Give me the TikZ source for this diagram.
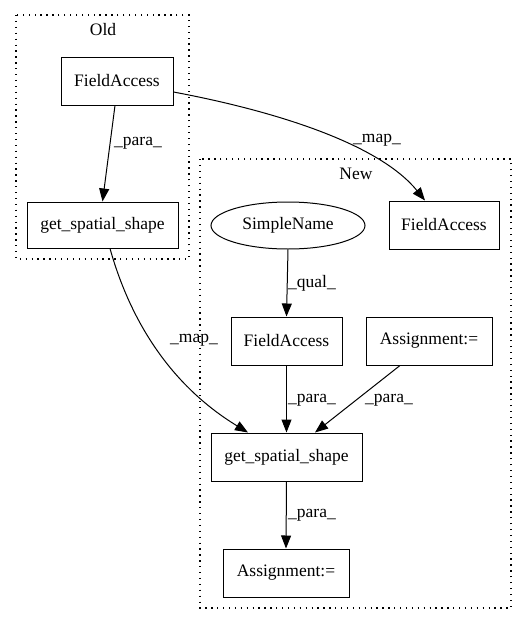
\documentclass[tikz,border=0pt]{standalone}
\usepackage{fontspec}
\setmainfont{Liberation Serif}
\usetikzlibrary{arrows.meta,calc,shapes.geometric}
\begin{document}
\begin{tikzpicture}[x=1pt,y=-1pt,
  every node/.style={font=\fontsize{17.5}{20}\selectfont},
  box/.style={draw,line width=1pt,inner sep=0pt},
  oval/.style={draw,ellipse,line width=1pt,inner sep=0pt},
  lbl/.style={inner sep=0pt},
  cluster/.style={line width=1.1pt,dash pattern=on 1.3pt off 4.6pt},
  edge/.style={line width=1pt,-{Triangle[length=13pt,width=10pt]}}]
\useasboundingbox (0,0) rectangle (527,624);
% clusters
\draw[cluster] (16,15) rectangle (189,259);
\draw[cluster] (200,159) rectangle (511,608);
\node[lbl] (oldlbl) at (103,30) {Old};
\node[lbl] (newlbl) at (356,174) {New};
% nodes
\node[box,minimum width=112pt,minimum height=48pt] (oldfa) at (117,81) {FieldAccess};
\node[box,minimum width=151pt,minimum height=46pt] (oldgss) at (102.5,225) {get\_spatial\_shape};
\node[box,minimum width=110pt,minimum height=48pt] (newfa) at (444,225) {FieldAccess};
\node[oval,minimum width=154pt,minimum height=47pt] (sn) at (288,225.5) {SimpleName};
\node[box,minimum width=111pt,minimum height=48pt] (midfa) at (286.5,341) {FieldAccess};
\node[box,minimum width=126pt,minimum height=48pt] (asgr) at (429,341) {Assignment:=};
\node[box,minimum width=151pt,minimum height=48pt] (newgss) at (286.5,457) {get\_spatial\_shape};
\node[box,minimum width=126pt,minimum height=48pt] (asgb) at (286,573) {Assignment:=};
% edges
\draw[edge] ($(oldfa.south)+(-2,0)$) -- (oldgss.north);
\draw[edge] ($(oldfa.east)+(0,11)$) .. controls (280,112) and (380,145) .. ($(newfa.north)+(-19,0)$);
\draw[edge] ($(oldgss.south)+(7.5,0)$) .. controls (130,320) and (170,385) .. ($(newgss.north)+(-38.5,0)$);
\draw[edge] (sn.south) -- (midfa.north);
\draw[edge] (midfa.south) -- (newgss.north);
\draw[edge] ($(asgr.south)+(-29,0)$) -- ($(newgss.north)+(28.5,0)$);
\draw[edge] (newgss.south) -- (asgb.north);
% edge labels
\node[lbl] (l1) at (138,143) {\_para\_};
\node[lbl] (l2) at (377,140) {\_map\_};
\node[lbl] (l3) at (194,340) {\_map\_};
\node[lbl] (l4) at (312,283) {\_qual\_};
\node[lbl] (l5) at (312,400) {\_para\_};
\node[lbl] (l6) at (389,400) {\_para\_};
\node[lbl] (l7) at (312,515) {\_para\_};
\end{tikzpicture}
\end{document}
